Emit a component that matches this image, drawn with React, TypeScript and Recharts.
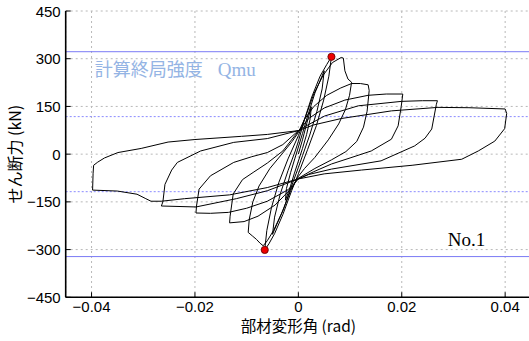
import React from 'react';
import {
  ComposedChart,
  Line,
  Scatter,
  XAxis,
  YAxis,
  CartesianGrid,
  ReferenceLine,
  Label,
} from 'recharts';

// drift angle (rad), shear force (kN), one loop per amplitude
const cycle400: Array<[number, number]> = [
  [0, 0], [0.0008, 45], [0.0016, 95], [0.0025, 148], [0.0023, 112], [0.0016, 62], [0.0008, 18],
  [0, -22], [-0.0008, -62], [-0.0016, -105], [-0.0025, -145], [-0.0023, -108], [-0.0015, -58],
  [-0.0007, -15], [0, 22],
];
const cycle200: Array<[number, number]> = [
  [0.0008, 65], [0.0018, 120], [0.0032, 192], [0.005, 262], [0.0046, 205], [0.0036, 135],
  [0.0022, 60], [0.0008, -5], [0, -42], [-0.0012, -95], [-0.0028, -170], [-0.0042, -222],
  [-0.005, -252], [-0.0046, -198], [-0.0035, -125], [-0.002, -52], [-0.0006, 10], [0, 40],
];
const cycle150: Array<[number, number]> = [
  [0.0012, 110], [0.0026, 180], [0.0042, 245], [0.0055, 282], [0.0064, 306], [0.0059, 245],
  [0.0049, 170], [0.0035, 90], [0.0018, 15], [0, -62], [-0.0013, -115], [-0.003, -190],
  [-0.0046, -250], [-0.0057, -282], [-0.0065, -301], [-0.0061, -240], [-0.0052, -168],
  [-0.0038, -90], [-0.002, -15], [0, 58],
];
const cycle100: Array<[number, number]> = [
  [0.0014, 118], [0.003, 190], [0.0048, 248], [0.0066, 288], [0.0083, 304], [0.0087, 302],
  [0.009, 262], [0.0096, 236], [0.0103, 226], [0.0099, 185], [0.0091, 140], [0.0078, 95],
  [0.0058, 45], [0.0032, -10], [0.0012, -45], [0, -70], [-0.0015, -115], [-0.0032, -185],
  [-0.0048, -240], [-0.006, -272], [-0.0068, -288], [-0.0074, -280], [-0.0081, -268],
  [-0.0089, -257], [-0.0097, -246], [-0.0095, -205], [-0.0088, -150], [-0.0076, -100],
  [-0.0055, -45], [-0.0032, 0], [-0.0012, 40], [0, 68],
];
const cycle75: Array<[number, number]> = [
  [0.0012, 110], [0.003, 150], [0.0055, 185], [0.0082, 208], [0.0103, 222], [0.012, 222],
  [0.0135, 218], [0.0137, 200], [0.0133, 135], [0.0126, 85], [0.0113, 40], [0.0092, 8],
  [0.0064, -18], [0.0032, -45], [0, -76], [-0.0015, -110], [-0.0045, -160], [-0.0078, -195],
  [-0.0105, -212], [-0.0133, -216], [-0.0132, -195], [-0.0126, -125], [-0.0108, -80],
  [-0.0086, -56], [-0.006, -28], [-0.003, 10], [0, 72],
];
const cycle50: Array<[number, number]> = [
  [0.002, 112], [0.005, 145], [0.009, 170], [0.0135, 185], [0.017, 189], [0.0202, 189],
  [0.0199, 150], [0.0193, 89], [0.018, 47], [0.0141, 10], [0.01, -12], [0.0064, -31],
  [0.003, -55], [0, -78], [-0.002, -112], [-0.006, -148], [-0.01, -170], [-0.0135, -183],
  [-0.017, -186], [-0.0198, -185], [-0.0197, -163], [-0.0192, -110], [-0.017, -68],
  [-0.0125, -26], [-0.009, -8], [-0.006, 5], [-0.003, 30], [0, 74],
];
const cycle37: Array<[number, number]> = [
  [0.0005, 80], [0.0051, 120], [0.0116, 152], [0.02, 166], [0.024, 168], [0.0269, 168],
  [0.0267, 157], [0.0258, 79], [0.0245, 50], [0.0225, 26], [0.016, -21], [0.0064, -47],
  [0.002, -64], [0, -78], [-0.006, -115], [-0.012, -140], [-0.0198, -166], [-0.0265, -163],
  [-0.0262, -150], [-0.0258, -95], [-0.0245, -50], [-0.0234, -26], [-0.0189, 10],
  [-0.0125, 37], [-0.006, 49], [0, 74],
];
const cycle25: Array<[number, number]> = [
  [0.003, 92], [0.0083, 112], [0.018, 136], [0.027, 147], [0.033, 146], [0.04, 142],
  [0.0403, 128], [0.0399, 80], [0.038, 41], [0.0348, 10], [0.0316, -16], [0.022, -35],
  [0.0122, -50], [0.005, -62], [0, -78], [-0.006, -105], [-0.0133, -128], [-0.022, -140],
  [-0.0265, -148], [-0.0285, -148], [-0.0295, -140], [-0.0312, -126], [-0.035, -116],
  [-0.0398, -113], [-0.0397, -60], [-0.0396, -35], [-0.0388, -25], [-0.0375, -12],
  [-0.0349, 5], [-0.0304, 18], [-0.0252, 38], [-0.02, 46], [-0.011, 56], [-0.006, 62], [0, 74],
];

const maxPoints: Array<[number, number]> = [[0.0064, 306], [-0.0065, -301]];

const qmu = 322; // calculated ultimate strength
const qsu = 118; // dashed reference level

const xTicks = [-0.04, -0.02, 0, 0.02, 0.04];
const yTicks = [-450, -300, -150, 0, 150, 300, 450];

const path = [...cycle400, ...cycle200, ...cycle150, ...cycle100, ...cycle75, ...cycle50, ...cycle37, ...cycle25]
  .map(([x, y]) => ({ x, y }));
const peaks = maxPoints.map(([x, y]) => ({ x, y }));

const sans = "'Liberation Sans', Arial, sans-serif";
const cjk = "'Noto Sans CJK JP', sans-serif";
const serif = "'Liberation Serif', 'Noto Sans CJK JP', serif";

const fmtX = (v: number) => (v === 0 ? '0' : (v < 0 ? '\u2212' : '') + Math.abs(v).toFixed(2));
const fmtY = (v: number) => (v < 0 ? '\u2212' + Math.abs(v) : String(v));

const BottomTick = (p: any) => (
  <g>
    <line x1={p.x} y1={p.y} x2={p.x} y2={p.y - 5} stroke="#000" strokeWidth={1} />
    <text x={p.x} y={p.y + 15} textAnchor="middle" fontSize={15} fontFamily={sans} fill="#000">
      {fmtX(p.payload.value)}
    </text>
  </g>
);
const LeftTick = (p: any) => (
  <g>
    <line x1={p.x} y1={p.y} x2={p.x + 5} y2={p.y} stroke="#000" strokeWidth={1} />
    <text x={p.x - 5} y={p.y + 5.5} textAnchor="end" fontSize={15} fontFamily={sans} fill="#000">
      {fmtY(p.payload.value)}
    </text>
  </g>
);
const TopTick = (p: any) => (
  <line x1={p.x} y1={p.y} x2={p.x} y2={p.y + 5} stroke="#000" strokeWidth={1} />
);
const RightTick = (p: any) => (
  <line x1={p.x} y1={p.y} x2={p.x - 6} y2={p.y} stroke="#000" strokeWidth={1} />
);

export default function App() {
  return (
    <div style={{ position: 'absolute', left: 0, top: 0, background: '#fff' }}>
      <ComposedChart
        width={540}
        height={341}
        data={path}
        margin={{ top: 11, right: 9, bottom: 13.7, left: 0 }}
      >
        <CartesianGrid stroke="#b8b8b8" strokeDasharray="2 3" />
        <XAxis
          dataKey="x"
          type="number"
          domain={[-0.045, 0.045]}
          ticks={xTicks}
          allowDataOverflow
          height={30}
          tickSize={0}
          tickMargin={0}
          tickLine={false}
          axisLine={{ stroke: '#000', strokeWidth: 1.6 }}
          tick={BottomTick}
        >
          <Label
            content={(props: any) => {
              const vb = props.viewBox;
              return (
                <text x={vb.x + vb.width / 2} y={vb.y + 35} textAnchor="middle" fontSize={15.5} fontFamily={cjk} fill="#000">
                  部材変形角 (rad)
                </text>
              );
            }}
          />
        </XAxis>
        <XAxis
          xAxisId="top"
          orientation="top"
          dataKey="x"
          type="number"
          domain={[-0.045, 0.045]}
          ticks={xTicks}
          allowDataOverflow
          height={0}
          tickSize={0}
          tickMargin={0}
          tickLine={false}
          axisLine={{ stroke: '#000', strokeWidth: 1.6 }}
          tick={TopTick}
        />
        <YAxis
          type="number"
          domain={[-450, 450]}
          ticks={yTicks}
          allowDataOverflow
          width={65.7}
          tickSize={0}
          tickMargin={0}
          tickLine={false}
          axisLine={{ stroke: '#000', strokeWidth: 1.6 }}
          tick={LeftTick}
        >
          <Label
            content={(props: any) => {
              const vb = props.viewBox;
              const cx = 14;
              const cy = vb.y + vb.height / 2;
              return (
                <text
                  x={cx}
                  y={cy}
                  transform={`rotate(-90, ${cx}, ${cy})`}
                  textAnchor="middle"
                  dominantBaseline="central"
                  fontSize={16}
                  fontFamily={cjk}
                  fill="#000"
                >
                  せん断力 (kN)
                </text>
              );
            }}
          />
        </YAxis>
        <YAxis
          yAxisId="right"
          orientation="right"
          type="number"
          domain={[-450, 450]}
          ticks={yTicks}
          allowDataOverflow
          width={0}
          tickSize={0}
          tickMargin={0}
          tickLine={false}
          axisLine={false}
          tick={RightTick}
        />
        <ReferenceLine
          y={qmu}
          stroke="#7a7af5"
          strokeWidth={1}
          label={{
            content: (props: any) => {
              const vb = props.viewBox;
              return (
                <text x={vb.x + 29} y={vb.y + 24} fontSize={18} fontFamily={serif} fill="#94b4e4">
                  計算終局強度
                  <tspan x={vb.x + 152} fontSize={19}>Qmu</tspan>
                </text>
              );
            },
          }}
        />
        <ReferenceLine
          y={-qmu}
          stroke="#7a7af5"
          strokeWidth={1}
          label={{
            content: (props: any) => {
              const vb = props.viewBox;
              return (
                <text x={vb.x + 382} y={vb.y - 11} fontSize={19} fontFamily={serif} fill="#000">
                  No.1
                </text>
              );
            },
          }}
        />
        <ReferenceLine y={qsu} stroke="#8a8aff" strokeDasharray="2 2" strokeWidth={1} />
        <ReferenceLine y={-qsu} stroke="#8a8aff" strokeDasharray="2 2" strokeWidth={1} />
        <Line
          dataKey="y"
          type="linear"
          stroke="#000"
          strokeWidth={1}
          dot={false}
          activeDot={false}
          isAnimationActive={false}
        />
        <Scatter
          data={peaks}
          dataKey="y"
          isAnimationActive={false}
          shape={(p: any) => <circle cx={p.cx} cy={p.cy} r={3.6} fill="#ee0000" stroke="#500" strokeWidth={0.8} />}
        />
      </ComposedChart>
    </div>
  );
}
